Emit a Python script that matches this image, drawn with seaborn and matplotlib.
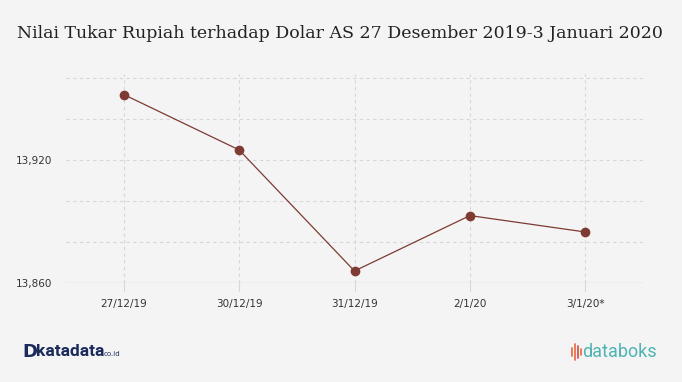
import matplotlib
matplotlib.use("Agg")
import matplotlib.pyplot as plt
import seaborn as sns
import pandas as pd
from matplotlib.ticker import FuncFormatter
from matplotlib.lines import Line2D

dates = ["27/12/19", "30/12/19", "31/12/19", "2/1/20", "3/1/20*"]
rates = [13952, 13925, 13866, 13893, 13885]

df = pd.DataFrame({"tanggal": dates, "kurs": rates})

sns.set_theme(style="white")
bg = "#f4f4f4"
fig = plt.figure(figsize=(6.82, 3.82), dpi=100, facecolor=bg)
ax = fig.add_axes([66/682, 1-283.3/382, (643-66)/682, (283.3-74)/382])
ax.set_facecolor(bg)

sns.lineplot(data=df, x="tanggal", y="kurs", sort=False, ax=ax,
             color="#7d3b32", linewidth=0.9, marker="o", markersize=7,
             markeredgewidth=0, markerfacecolor="#7d3b32")

ax.set_xlim(-0.5, len(dates) - 0.5)
ax.set_ylim(13860, 13962)
ax.set_yticks([13860, 13880, 13900, 13920, 13940, 13960])
ax.yaxis.set_major_formatter(FuncFormatter(
    lambda v, p: f"{int(v):,}" if int(v) in (13860, 13920) else ""))
ax.set_xticks(range(len(dates)))
ax.set_xticklabels(dates)
ax.grid(True, axis="both", linestyle=(0, (3, 3)), color="#d6d6d6", linewidth=0.8)
ax.axhline(13860, color="#d6d6d6", linewidth=1.0, zorder=1)
for s in ax.spines.values():
    s.set_visible(False)
ax.tick_params(axis="y", length=0, labelsize=7.5, labelcolor="#333333", pad=10)
ax.tick_params(axis="x", length=6, width=0.8, color="#d6d6d6", direction="out",
               labelsize=7.5, labelcolor="#333333", pad=5, bottom=True)
ax.set_xlabel("")
ax.set_ylabel("")

fig.text(17/682, 1-33/382, "Nilai Tukar Rupiah terhadap Dolar AS 27 Desember 2019-3 Januari 2020",
         fontsize=12.5, family="DejaVu Serif", color="#222222", va="center", ha="left")

# logos as text
fig.text(22/682, 1-352/382, "D", fontsize=13, weight="bold", color="#1b2a5c",
         va="center", ha="left", family="DejaVu Sans")
fig.text(36/682, 1-352/382, "katadata", fontsize=12.5, weight="bold", color="#1b2a5c",
         va="center", ha="left", family="Roboto")
fig.text(104/682, 1-354/382, "co.id", fontsize=5, color="#1b2a5c",
         va="center", ha="left", family="DejaVu Sans")
fig.text(582/682, 1-352/382, "databoks", fontsize=13, color="#4fb3b3",
         va="center", ha="left", family="Roboto")
bars = [(572, 348, 356, "#e8734a"), (575, 344, 360, "#e8734a"),
        (578, 346, 358, "#d9534f"), (581, 349, 355, "#e8734a")]
for x, y0, y1, c in bars:
    fig.add_artist(Line2D([x/682, x/682], [1-y0/382, 1-y1/382], color=c, linewidth=1.3,
                          transform=fig.transFigure))

fig.savefig("out.png", dpi=100, facecolor=bg)
